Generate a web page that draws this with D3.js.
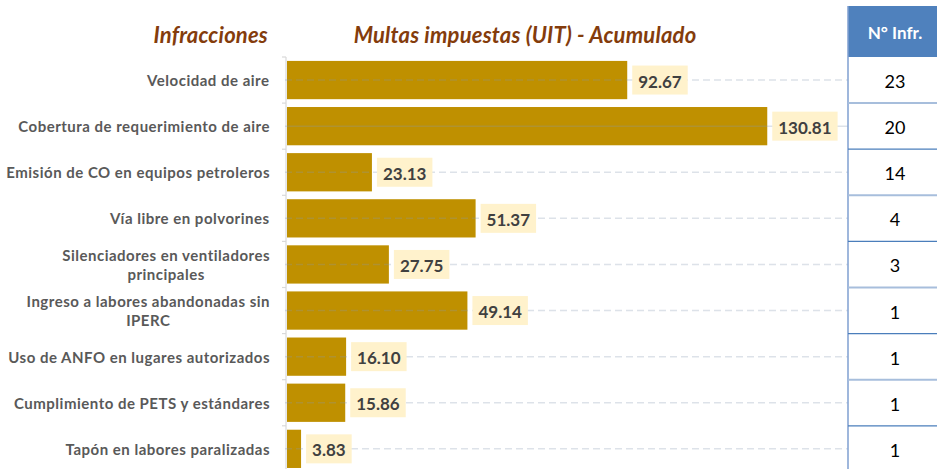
<!DOCTYPE html>
<html><head><meta charset="utf-8">
<script src="https://cdn.jsdelivr.net/npm/d3@7"></script>
<style>
html,body{margin:0;padding:0;background:#fff;overflow:hidden}
svg{display:block}
</style></head>
<body><svg id="c" width="937" height="469"></svg>
<script>
const categories = [
  "Velocidad de aire",
  "Cobertura de requerimiento de aire",
  "Emisión de CO en equipos petroleros",
  "Vía libre en polvorines",
  "Silenciadores en ventiladores\nprincipales",
  "Ingreso a labores abandonadas sin\nIPERC",
  "Uso de ANFO en lugares autorizados",
  "Cumplimiento de PETS y estándares",
  "Tapón en labores paralizadas"
];
const multas = [92.67, 130.81, 23.13, 51.37, 27.75, 49.14, 16.10, 15.86, 3.83];
const infracciones = [23, 20, 14, 4, 3, 1, 1, 1, 1];
const titleLeft = "Infracciones";
const titleMain = "Multas impuestas (UIT) - Acumulado";
const tableHeader = "N° Infr.";

const svg = d3.select("#c");
const FONT = "Lato, 'Open Sans', sans-serif";

const y = d3.scaleBand().domain(categories).range([57, 57 + 9 * 46.1]).paddingInner(0.17).paddingOuter(0.085);
const x = d3.scaleLinear().domain([0, 140]).range([287, 801]);
const tableX = 848, tableCx = 895;

// titles
svg.append("text").attr("x", 268).attr("y", 43).attr("text-anchor", "end")
  .attr("font-family", FONT).attr("font-size", 22).attr("font-weight", "bold").attr("font-style", "italic")
  .attr("letter-spacing", 0.2).attr("fill", "#843C0C").text(titleLeft);
svg.append("text").attr("x", 525).attr("y", 43).attr("text-anchor", "middle")
  .attr("font-family", FONT).attr("font-size", 22).attr("font-weight", "bold").attr("font-style", "italic")
  .attr("letter-spacing", 0.2).attr("fill", "#843C0C").text(titleMain);

// axis line with boundary ticks
const axisG = svg.append("g");
axisG.append("line").attr("x1", 286).attr("x2", 286).attr("y1", 57).attr("y2", 469)
  .attr("stroke", "#d9d9d9").attr("stroke-width", 1.2);
categories.forEach((c, i) => {
  const yy = y(c) - y.step() * y.paddingInner() / 2;
  axisG.append("line").attr("x1", 282).attr("x2", 286).attr("y1", yy).attr("y2", yy)
    .attr("stroke", "#d9d9d9").attr("stroke-width", 1.2);
});

// bars
svg.append("g").selectAll("rect").data(categories).join("rect")
  .attr("x", x(0)).attr("y", d => y(d))
  .attr("width", (d, i) => x(multas[i]) - x(0))
  .attr("height", y.bandwidth())
  .attr("fill", "#BF9000");

// guide lines
svg.append("g").selectAll("line").data(categories).join("line")
  .attr("x1", 285).attr("x2", tableX)
  .attr("y1", d => y(d) + y.bandwidth() / 2).attr("y2", d => y(d) + y.bandwidth() / 2)
  .attr("stroke", "#8497b0").attr("stroke-opacity", 0.28).attr("stroke-width", 1.5)
  .attr("stroke-dasharray", (d, i) => i === 1 ? null : "7,4");

// value labels
const fmt = d3.format(".2f");
const lab = svg.append("g").selectAll("g").data(categories).join("g");
lab.each(function (d, i) {
  const g = d3.select(this);
  const cy = y(d) + y.bandwidth() / 2;
  const t = g.append("text").attr("font-family", FONT).attr("font-size", 17).attr("font-weight", "bold")
    .attr("fill", "#404040").attr("text-anchor", "middle").attr("dominant-baseline", "central").text(fmt(multas[i]));
  const w = t.node().getComputedTextLength() + 12;
  const bx = x(multas[i]) + 5;
  g.insert("rect", "text").attr("x", bx).attr("y", cy - 14.5).attr("width", w).attr("height", 29).attr("fill", "#FFF2CC");
  t.attr("x", bx + w / 2).attr("y", cy + 1);
});

// category labels
svg.append("g").selectAll("g").data(categories).join("g").each(function (d) {
  const g = d3.select(this);
  const lines = d.split("\n");
  const cy = y(d) + y.bandwidth() / 2;
  const lh = 19;
  const t = g.append("text").attr("font-family", FONT).attr("font-size", 15).attr("font-weight", "bold")
    .attr("letter-spacing", 0.5).attr("fill", "#595959").attr("text-anchor", "middle");
  lines.forEach((l, k) => {
    t.append("tspan").attr("x", 0).attr("y", cy + (k - (lines.length - 1) / 2) * lh).attr("dominant-baseline", "central").text(l);
  });
  const w = t.node().getBBox().width;
  t.attr("transform", `translate(${270 - w / 2},0)`);
});

// table
const tbl = svg.append("g");
tbl.append("rect").attr("x", tableX).attr("y", 6).attr("width", 937 - tableX).attr("height", 51).attr("fill", "#4F81BD");
tbl.append("text").attr("x", tableCx).attr("y", 32).attr("text-anchor", "middle").attr("dominant-baseline", "central")
  .attr("font-family", FONT).attr("font-size", 17).attr("font-weight", "bold").attr("fill", "#fff").text(tableHeader);
tbl.append("line").attr("x1", tableX).attr("x2", tableX).attr("y1", 6).attr("y2", 469)
  .attr("stroke", "#7f9fd0").attr("stroke-width", 1.5);
categories.forEach((c, i) => {
  const bottom = y(c) + y.bandwidth() + y.step() * y.paddingInner() / 2;
  tbl.append("line").attr("x1", tableX).attr("x2", 937).attr("y1", bottom).attr("y2", bottom)
    .attr("stroke", i % 2 === 0 ? "#a7bedc" : "#4a7ebb").attr("stroke-width", i % 2 === 0 ? 2 : 1.2);
  tbl.append("text").attr("x", tableCx).attr("y", y(c) + y.bandwidth() / 2 + 1)
    .attr("text-anchor", "middle").attr("dominant-baseline", "central")
    .attr("font-family", FONT).attr("font-size", 18).attr("fill", "#000").text(infracciones[i]);
});
</script></body></html>
